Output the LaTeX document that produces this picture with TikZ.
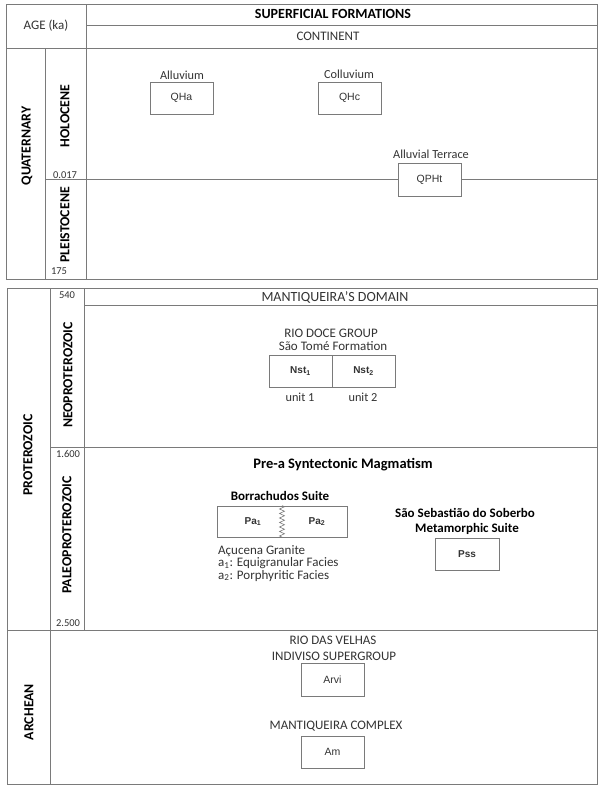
\documentclass[tikz,border=0pt]{standalone}
\usepackage{fontspec}
\setmainfont{Carlito}
\newfontfamily\boxfont{Liberation Sans}
\usetikzlibrary{decorations.pathmorphing}
\definecolor{ln}{HTML}{7A7A7A}
\definecolor{tx}{HTML}{333333}
\begin{document}
\begin{tikzpicture}[x=1pt,y=-1pt,
  frame/.style={draw=ln, line width=1pt},
  tbox/.style={draw=ln, line width=0.8pt, minimum width=63pt, minimum height=32pt, inner sep=0pt, text=tx, font=\boxfont\fontsize{10.5}{12}\selectfont},
  lbl/.style={inner sep=0pt, text=tx, font=\fontsize{13}{15}\selectfont},
  slbl/.style={inner sep=0pt, text=tx, font=\fontsize{12.3}{14}\selectfont},
  blbl/.style={inner sep=0pt, text=black, font=\bfseries\fontsize{13}{15}\selectfont},
  vlbl/.style={inner sep=0pt, rotate=90, text=black, font=\bfseries\fontsize{13.8}{15}\selectfont},
  num/.style={inner sep=0pt, text=tx, font=\fontsize{10.5}{12}\selectfont}]
\useasboundingbox (0,0) rectangle (601,785);
\fill[white] (0,0) rectangle (601,785);

% ---------- Quaternary table ----------
\draw[frame] (6,4) rectangle (597,279);
\draw[frame] (86,4) -- (86,279);
\draw[frame] (86,25) -- (597,25);
\draw[frame] (6,48) -- (597,48);
\draw[frame] (45,48) -- (45,279);

\node[lbl] (age) at (46,26) {AGE (ka)};
\node[blbl, font=\bfseries\fontsize{14}{16}\selectfont] (sup) at (333,14) {SUPERFICIAL FORMATIONS};
\node[lbl] (cont) at (328,36) {CONTINENT};
\node[vlbl] (quat) at (27,146) {QUATERNARY};
\node[vlbl] (holo) at (65,116) {HOLOCENE};
\node[num] (n0017) at (65,175) {0.017};
\node[vlbl] (pleis) at (65,225) {PLEISTOCENE};
\node[num] (n175) at (59,271) {175};

\node[slbl] (alluv) at (182,75) {Alluvium};
\node[tbox] (qha) at (181.5,98) {QHa};
\node[slbl] (colluv) at (349,74) {Colluvium};
\node[tbox] (qhc) at (349.5,98) {QHc};
\node[slbl] (terr) at (431,154) {Alluvial Terrace};
\node[tbox, minimum height=33pt] (qpht) at (429.5,179.5) {QPHt};
\coordinate (hl) at (45,179.5);
\coordinate (hr) at (597,179.5);
\draw[frame] (hl) -- (qpht.west);
\draw[frame] (qpht.east) -- (hr);

% ---------- Proterozoic / Archean table ----------
\draw[frame] (7,288) rectangle (597,784);
\draw[frame] (50,288) -- (50,784);
\draw[frame] (84,288) -- (84,630);
\draw[frame] (84,305) -- (597,305);
\draw[frame] (50,447) -- (597,447);
\draw[frame] (7,630) -- (597,630);

\node[num] (n540) at (67,295) {540};
\node[lbl, font=\fontsize{14}{16}\selectfont] (dom) at (335,297) {MANTIQUEIRA'S DOMAIN};
\node[vlbl] (neo) at (68,375) {NEOPROTEROZOIC};
\node[vlbl] (prot) at (28,455) {PROTEROZOIC};
\node[lbl] (riodoce) at (331,333) {RIO DOCE GROUP};
\node[lbl] (stome) at (333,346) {São Tomé Formation};
\node[tbox, font=\boxfont\bfseries\fontsize{10}{12}\selectfont] (nst1) at (300.5,371) {Nst\textsubscript{1}};
\node[tbox, font=\boxfont\bfseries\fontsize{10}{12}\selectfont] (nst2) at (363.5,371) {Nst\textsubscript{2}};
\node[slbl] (u1) at (300,397) {unit 1};
\node[slbl] (u2) at (363,397) {unit 2};

\node[num] (n1600) at (68,454) {1.600};
\node[blbl, font=\bfseries\fontsize{14.5}{16}\selectfont] (prea) at (343,465) {Pre-a Syntectonic Magmatism};
\node[vlbl] (paleo) at (67,535) {PALEOPROTEROZOIC};
\node[blbl] (borr) at (280,496) {Borrachudos Suite};
\node[tbox, minimum width=130pt, minimum height=31pt] (pabox) at (282,521.5) {};
\draw[ln, line width=0.6pt, decorate, decoration={zigzag, amplitude=2.5pt, segment length=4.5pt}] (pabox.north) -- (pabox.south);
\node[inner sep=0pt, text=tx, font=\boxfont\bfseries\fontsize{10}{12}\selectfont] (pa1) at (253,521.5) {Pa\textsubscript{1}};
\node[inner sep=0pt, text=tx, font=\boxfont\bfseries\fontsize{10}{12}\selectfont] (pa2) at (317,521.5) {Pa\textsubscript{2}};
\node[lbl, anchor=north west, align=left, font=\fontsize{13}{12.5}\selectfont] (acu) at (218,545) {Açucena Granite\\a\textsubscript{1}: Equigranular Facies\\a\textsubscript{2}: Porphyritic Facies};

\node[blbl] (sseb) at (465,513) {São Sebastião do Soberbo};
\node[blbl] (meta) at (467,529) {Metamorphic Suite};
\node[tbox, minimum width=64pt, font=\boxfont\bfseries\fontsize{10}{12}\selectfont] (pss) at (467,554) {Pss};

\node[num] (n2500) at (68,623) {2.500};
\node[vlbl] (arch) at (29,712) {ARCHEAN};
\node[lbl] (rdv) at (333,640) {RIO DAS VELHAS};
\node[lbl] (indiv) at (334,656) {INDIVISO SUPERGROUP};
\node[tbox, minimum height=33pt] (arvi) at (332.5,679.5) {Arvi};
\node[lbl] (mcomp) at (336,726) {MANTIQUEIRA COMPLEX};
\node[tbox] (am) at (332.5,752) {Am};
\end{tikzpicture}
\end{document}
